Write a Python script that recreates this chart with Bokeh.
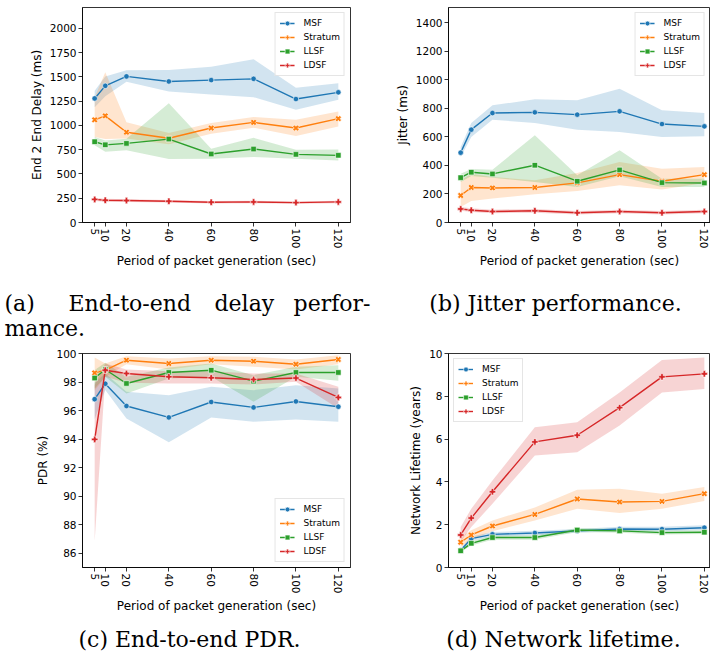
import math
from bokeh.plotting import figure
from bokeh.models import Range1d, FixedTicker, Legend, LegendItem
from bokeh.layouts import column, row
from bokeh.embed import file_html
from bokeh.resources import INLINE
from bokeh.core.properties import value

periods = [5, 10, 20, 40, 60, 80, 100, 120]
x_ticks = [5, 10, 20, 40, 60, 80, 100, 120]
schemes = ["MSF", "Stratum", "LLSF", "LDSF"]
colors = ["#1f77b4", "#ff7f0e", "#2ca02c", "#d62728"]

# (a) End-to-end delay (ms)
delay_msf = [1278, 1408, 1505, 1453, 1467, 1480, 1272, 1341]
delay_msf_lo = [1188, 1300, 1450, 1350, 1318, 1291, 1161, 1264]
delay_msf_hi = [1357, 1505, 1568, 1570, 1604, 1682, 1387, 1435]
delay_stratum = [1058, 1099, 930, 868, 973, 1031, 973, 1070]
delay_stratum_lo = [880, 860, 865, 805, 914, 976, 890, 990]
delay_stratum_hi = [1290, 1548, 1034, 921, 1024, 1086, 1058, 1144]
delay_llsf = [832, 800, 815, 859, 706, 757, 702, 692]
delay_llsf_lo = [795, 728, 745, 655, 658, 675, 658, 640]
delay_llsf_hi = [880, 846, 863, 1229, 760, 873, 750, 753]
delay_ldsf = [238, 229, 226, 219, 209, 212, 205, 212]
delay_ldsf_lo = [222, 213, 211, 205, 196, 199, 193, 199]
delay_ldsf_hi = [254, 244, 240, 233, 222, 225, 217, 225]

# (b) Jitter (ms)
jitter_msf = [489, 650, 766, 771, 755, 778, 689, 673]
jitter_msf_lo = [459, 598, 720, 696, 650, 633, 598, 603]
jitter_msf_hi = [529, 696, 820, 862, 855, 936, 785, 766]
jitter_stratum = [189, 245, 242, 245, 277, 335, 289, 335]
jitter_stratum_lo = [109, 151, 168, 198, 221, 261, 231, 277]
jitter_stratum_hi = [296, 342, 319, 295, 347, 424, 377, 389]
jitter_llsf = [314, 352, 340, 401, 289, 368, 279, 277]
jitter_llsf_lo = [284, 326, 314, 284, 249, 324, 249, 249]
jitter_llsf_hi = [342, 375, 370, 610, 331, 505, 307, 307]
jitter_ldsf = [95, 86, 77, 82, 68, 77, 68, 77]
jitter_ldsf_lo = [82, 73, 64, 69, 56, 65, 56, 65]
jitter_ldsf_hi = [108, 99, 90, 95, 80, 89, 80, 89]

# (c) End-to-end PDR (%)
pdr_msf = [96.80, 97.88, 96.32, 95.52, 96.60, 96.22, 96.64, 96.27]
pdr_msf_lo = [95.40, 97.45, 95.45, 93.78, 95.52, 95.22, 95.38, 95.22]
pdr_msf_hi = [97.95, 98.60, 97.32, 97.08, 97.67, 97.43, 97.78, 97.55]
pdr_stratum = [98.64, 98.83, 99.53, 99.30, 99.53, 99.46, 99.25, 99.58]
pdr_stratum_lo = [97.40, 98.35, 99.25, 98.88, 99.25, 99.07, 98.88, 99.25]
pdr_stratum_hi = [99.72, 99.30, 99.81, 99.65, 99.81, 99.77, 99.58, 99.88]
pdr_llsf = [98.28, 98.88, 97.90, 98.67, 98.83, 98.06, 98.67, 98.67]
pdr_llsf_lo = [97.55, 98.37, 97.20, 98.25, 98.37, 96.62, 98.37, 98.09]
pdr_llsf_hi = [98.85, 99.35, 98.37, 99.02, 99.30, 98.48, 99.07, 99.18]
pdr_ldsf = [93.98, 98.83, 98.60, 98.37, 98.30, 98.18, 98.28, 96.92]
pdr_ldsf_lo = [86.86, 98.37, 97.95, 97.90, 97.90, 97.83, 98.02, 96.15]
pdr_ldsf_hi = [97.80, 99.30, 98.88, 98.76, 98.76, 98.60, 98.60, 97.67]

# (d) Network lifetime (years)
life_msf = [0.81, 1.35, 1.55, 1.61, 1.71, 1.80, 1.79, 1.86]
life_msf_lo = [0.74, 1.25, 1.45, 1.50, 1.62, 1.70, 1.68, 1.75]
life_msf_hi = [0.90, 1.45, 1.66, 1.72, 1.80, 1.90, 1.90, 1.97]
life_stratum = [1.18, 1.52, 1.94, 2.48, 3.20, 3.06, 3.09, 3.45]
life_stratum_lo = [0.96, 1.30, 1.69, 2.20, 2.75, 2.55, 2.75, 3.11]
life_stratum_hi = [1.43, 1.74, 2.20, 2.80, 3.63, 3.68, 3.45, 3.76]
life_llsf = [0.78, 1.13, 1.40, 1.40, 1.75, 1.71, 1.63, 1.65]
life_llsf_lo = [0.72, 1.03, 1.30, 1.30, 1.66, 1.62, 1.54, 1.56]
life_llsf_hi = [0.85, 1.23, 1.50, 1.50, 1.84, 1.80, 1.72, 1.74]
life_ldsf = [1.52, 2.31, 3.54, 5.87, 6.18, 7.47, 8.91, 9.05]
life_ldsf_lo = [1.20, 1.89, 2.98, 5.23, 5.39, 6.63, 8.18, 8.34]
life_ldsf_hi = [1.89, 2.75, 4.07, 6.55, 6.79, 8.18, 9.70, 9.81]

xlabel = "Period of packet generation (sec)"
captions_a = ["(a)", "End-to-end", "delay", "perfor-", "mance."]
caption_b = "(b) Jitter performance."
caption_c = "(c) End-to-end PDR."
caption_d = "(d) Network lifetime."

SANS = "DejaVu Sans"
SERIF = "DejaVu Serif"
markers = [("circle", 0.0, 5.5), ("plus", math.pi / 4, 6.5), ("square", 0.0, 5.5), ("plus", 0.0, 6.5)]

TOTAL_W = 710
LEFT_W = 355


def panel(series, ylabel, yr, yticks, legend_loc, left, top_row):
    if left:
        w, mbl, mbr, xr = LEFT_W, 82, 5, (-0.75, 125.75)
    else:
        w, mbl, mbr, xr = TOTAL_W - LEFT_W, 93, 0, (-0.75, 122.9)
    if top_row:
        h, mbt, mbb = 275, 7, 53
    else:
        h, mbt, mbb = 270, 8, 47
    p = figure(width=w, height=h, x_range=Range1d(*xr), y_range=Range1d(*yr),
               output_backend="svg", toolbar_location=None, tools="",
               min_border_left=mbl, min_border_right=mbr,
               min_border_top=mbt, min_border_bottom=mbb)
    p.background_fill_color = "white"
    p.border_fill_color = "white"
    p.outline_line_color = "black"
    p.outline_line_width = 0.8
    p.xgrid.visible = False
    p.ygrid.visible = False
    for ax in (p.xaxis[0], p.yaxis[0]):
        ax.axis_line_color = "black"
        ax.axis_line_width = 0.8
        ax.major_tick_line_color = "black"
        ax.major_tick_line_width = 0.8
        ax.major_tick_out = 4
        ax.major_tick_in = 0
        ax.minor_tick_line_color = None
        ax.major_label_text_font = SANS
        ax.major_label_text_font_size = "10.5px"
        ax.major_label_text_color = "black"
        ax.major_label_standoff = 2
        ax.axis_label_text_font = SANS
        ax.axis_label_text_font_size = "12px"
        ax.axis_label_text_font_style = "normal"
        ax.axis_label_text_color = "black"
    p.xaxis.ticker = FixedTicker(ticks=x_ticks)
    p.xaxis.major_label_orientation = "vertical"
    p.xaxis.axis_label = xlabel
    p.xaxis.axis_label_standoff = 2
    p.yaxis.ticker = FixedTicker(ticks=yticks)
    p.yaxis.axis_label = ylabel
    p.yaxis.axis_label_standoff = 3

    for (vals, lo, hi), c in zip(series, colors):
        p.varea(x=periods, y1=lo, y2=hi, fill_color=c, fill_alpha=0.2)
    items = []
    for (vals, lo, hi), c, name, (m, ang, sz) in zip(series, colors, schemes, markers):
        ln = p.line(periods, vals, line_color=c, line_width=1.4)
        sc = p.scatter(periods, vals, marker=m, angle=ang, size=sz, fill_color=c,
                       line_color="white", line_width=0.6)
        items.append(LegendItem(label=name, renderers=[ln, sc]))
    leg = Legend(items=items, location=legend_loc, margin=5, padding=4, spacing=2,
                 label_text_font=SANS, label_text_font_size="9px", label_text_color="black",
                 label_height=12, glyph_height=12, glyph_width=15, label_standoff=9,
                 border_line_color="#cccccc", border_line_width=1,
                 background_fill_color="white", background_fill_alpha=0.8)
    p.add_layout(leg)
    return p


pa = panel([(delay_msf, delay_msf_lo, delay_msf_hi),
            (delay_stratum, delay_stratum_lo, delay_stratum_hi),
            (delay_llsf, delay_llsf_lo, delay_llsf_hi),
            (delay_ldsf, delay_ldsf_lo, delay_ldsf_hi)],
           "End 2 End Delay (ms)", (0, 2215), list(range(0, 2001, 250)), "top_right", True, True)
pb = panel([(jitter_msf, jitter_msf_lo, jitter_msf_hi),
            (jitter_stratum, jitter_stratum_lo, jitter_stratum_hi),
            (jitter_llsf, jitter_llsf_lo, jitter_llsf_hi),
            (jitter_ldsf, jitter_ldsf_lo, jitter_ldsf_hi)],
           "Jitter (ms)", (0, 1505), list(range(0, 1401, 200)), "top_right", False, True)
pc = panel([(pdr_msf, pdr_msf_lo, pdr_msf_hi),
            (pdr_stratum, pdr_stratum_lo, pdr_stratum_hi),
            (pdr_llsf, pdr_llsf_lo, pdr_llsf_hi),
            (pdr_ldsf, pdr_ldsf_lo, pdr_ldsf_hi)],
           "PDR (%)", (85, 100), list(range(86, 101, 2)), "bottom_right", True, False)
pd_ = panel([(life_msf, life_msf_lo, life_msf_hi),
             (life_stratum, life_stratum_lo, life_stratum_hi),
             (life_llsf, life_llsf_lo, life_llsf_hi),
             (life_ldsf, life_ldsf_lo, life_ldsf_hi)],
            "Network Lifetime (years)", (0, 10), list(range(0, 11, 2)), "top_left", False, False)


def caption_fig(h):
    c = figure(width=TOTAL_W, height=h, x_range=Range1d(0, TOTAL_W), y_range=Range1d(h, 0),
               output_backend="svg", toolbar_location=None, tools="",
               min_border=0, min_border_left=0, min_border_right=0,
               min_border_top=0, min_border_bottom=0)
    c.axis.visible = False
    c.xgrid.visible = False
    c.ygrid.visible = False
    c.outline_line_color = None
    c.background_fill_color = "white"
    c.border_fill_color = "white"
    return c


def put(c, x, y, t, align):
    c.text(x=[x], y=[y], text=[t], text_font=value(SERIF), text_font_size=value("22px"),
           text_color="black", text_align=align, text_baseline="alphabetic")


cap1 = caption_fig(70)
put(cap1, 4, 28, captions_a[0], "left")
put(cap1, 68, 28, captions_a[1], "left")
put(cap1, 214, 28, captions_a[2], "left")
put(cap1, 370, 28, captions_a[3], "right")
put(cap1, 4, 53, captions_a[4], "left")
put(cap1, 555, 28, caption_b, "center")

cap2 = caption_fig(39)
put(cap2, 189, 24, caption_c, "center")
put(cap2, 563, 24, caption_d, "center")

layout = column(row(pa, pb), cap1, row(pc, pd_), cap2)
open("out.html", "w").write(file_html(layout, INLINE))
